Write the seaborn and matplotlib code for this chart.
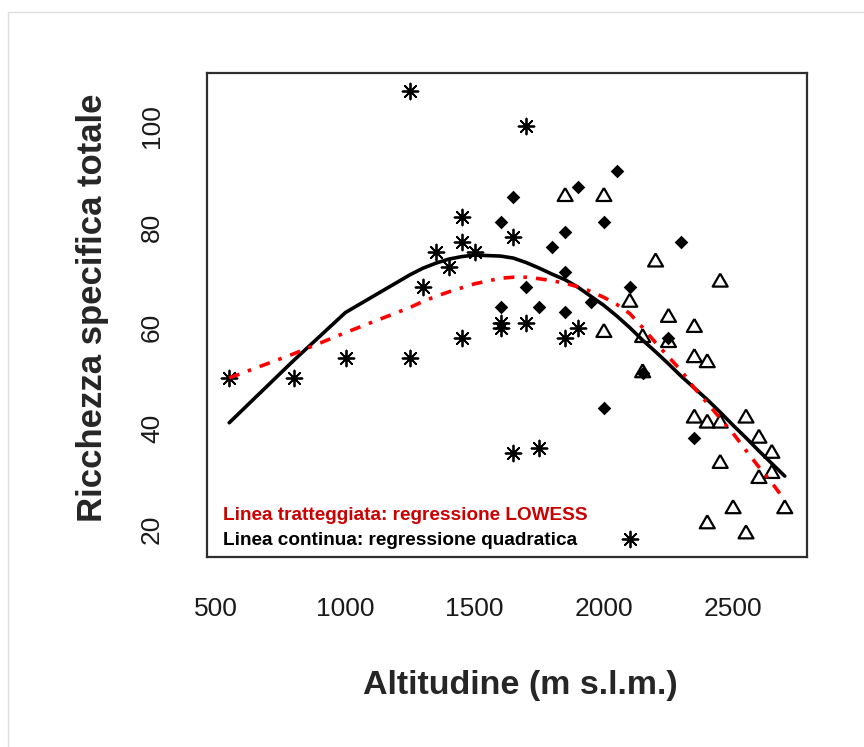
"""Ricchezza specifica vs altitudine: punti, regressione quadratica e LOWESS."""

import matplotlib
matplotlib.use("Agg")

import matplotlib.pyplot as plt
from matplotlib.patches import Rectangle
import numpy as np
import seaborn as sns

# --- dati -------------------------------------------------------------------
# asterischi
ast_alt = [550, 800, 1000, 1250, 1250, 1300, 1350, 1400, 1450, 1450, 1450,
           1500, 1600, 1600, 1650, 1650, 1700, 1700, 1750, 1850, 1900, 2100]
ast_ric = [50, 50, 54, 54, 107, 68, 75, 72, 82, 77, 58,
           75, 61, 60, 78, 35, 100, 61, 36, 58, 60, 18]
# rombi pieni
dia_alt = [1600, 1600, 1650, 1700, 1750, 1800, 1850, 1850, 1850, 1900,
           1950, 2000, 2000, 2050, 2100, 2150, 2250, 2300, 2350]
dia_ric = [81, 64, 86, 68, 64, 76, 79, 71, 63, 88,
           65, 81, 44, 91, 68, 51, 58, 77, 38]
# triangoli vuoti
tri_alt = [1850, 2000, 2000, 2100, 2150, 2150, 2200, 2250, 2250, 2350,
           2350, 2350, 2400, 2400, 2400, 2450, 2450, 2450, 2500, 2550,
           2550, 2600, 2600, 2650, 2650, 2700]
tri_ric = [86, 86, 59, 65, 58, 51, 73, 62, 57, 60,
           54, 42, 53, 41, 21, 69, 41, 33, 24, 42,
           19, 38, 30, 35, 31, 24]

# curve (valori stimati alle altitudini osservate)
fit_alt = [550, 800, 1000, 1250, 1300, 1350, 1400, 1450, 1500, 1600, 1650,
           1700, 1750, 1800, 1850, 1900, 1950, 2000, 2050, 2100, 2150, 2200,
           2250, 2300, 2350, 2400, 2450, 2500, 2550, 2600, 2650, 2700]
quad_ric = [41.1, 53.5, 63.0, 70.5, 71.8, 72.8, 73.6, 74.1, 74.4, 74.2, 73.8,
            72.9, 71.8, 70.6, 69.5, 68.0, 66.2, 64.4, 62.3, 60.0, 57.5, 55.2,
            52.8, 50.3, 48.0, 45.7, 43.2, 40.6, 38.1, 35.5, 33.0, 30.5]
lowess_ric = [50.0, 54.8, 59.0, 64.0, 65.2, 66.2, 67.1, 67.9, 68.7, 69.8, 70.0,
              70.0, 69.7, 69.3, 68.8, 68.1, 67.2, 66.0, 64.6, 62.8, 60.0, 57.0,
              54.2, 51.4, 48.0, 45.0, 42.0, 39.0, 35.6, 32.3, 29.2, 25.7]

x_ticks = [500, 1000, 1500, 2000, 2500]
y_ticks = [20, 40, 60, 80, 100]

alt = np.array(ast_alt + dia_alt + tri_alt, dtype=float)
ric = np.array(ast_ric + dia_ric + tri_ric, dtype=float)

sns.set_theme(style="white")
plt.rcParams["font.family"] = ["Liberation Sans", "DejaVu Sans"]

fig = plt.figure(figsize=(8.64, 7.47), dpi=100)
fig.patches.append(Rectangle((8 / 864, -0.01), 1.0, 1 - 12 / 747 + 0.01,
                             transform=fig.transFigure, fill=False,
                             edgecolor="#dedede", linewidth=1))
ax = fig.add_axes([207 / 864, 1 - 557 / 747, 600 / 864, 484 / 747])

tri_marker = [(0, 1), (-0.866, -0.5), (0.866, -0.5), (0, 1)]

sns.scatterplot(x=ast_alt, y=ast_ric, marker=(8, 2, 0), s=130, color="black",
                linewidth=1.3, ax=ax)
sns.scatterplot(x=dia_alt, y=dia_ric, marker="D", s=48, color="black",
                edgecolor="black", linewidth=0, ax=ax)
sns.scatterplot(x=tri_alt, y=tri_ric, marker=tri_marker, s=155,
                facecolor="none", edgecolor="black", linewidth=1.6, ax=ax)

sns.lineplot(x=fit_alt, y=quad_ric, color="black", linewidth=2.6,
             estimator=None, sort=False, ax=ax)
sns.lineplot(x=fit_alt, y=lowess_ric, color="#ff0000", linewidth=2.6,
             estimator=None, sort=False, linestyle=(0, (3, 2.5, 1, 2.5)), ax=ax)

# limiti stile R (4% oltre il range dei dati)
xr = alt.max() - alt.min()
yr = ric.max() - ric.min()
ax.set_xlim(alt.min() - 0.04 * xr, alt.max() + 0.04 * xr)
ax.set_ylim(ric.min() - 0.04 * yr, ric.max() + 0.04 * yr)

ax.set_xticks(x_ticks)
ax.set_yticks(y_ticks)
ax.tick_params(axis="both", direction="out", length=13, width=1.3,
               color="#333333", labelsize=19, labelcolor="#1a1a1a")
ax.tick_params(axis="x", pad=16)
ax.tick_params(axis="y", pad=18, labelrotation=90)
for lab in ax.get_yticklabels():
    lab.set_va("center")
for sp in ax.spines.values():
    sp.set_color("#2e2e2e")
    sp.set_linewidth(1.6)

ax.set_xlabel("Altitudine (m s.l.m.)", fontsize=24.5, fontweight="bold")
ax.xaxis.set_label_coords(0.523, -0.2665)
ax.xaxis.label.set_va("center")
ax.set_ylabel("Ricchezza specifica totale", fontsize=25, fontweight="bold")
ax.yaxis.set_label_coords(-0.19, 0.5145)
ax.yaxis.label.set_va("center")

ax.text(0.027, 0.085, "Linea tratteggiata: regressione LOWESS", color="#cc0000",
        fontsize=13.7, fontweight="bold", transform=ax.transAxes, va="center")
ax.text(0.027, 0.035, "Linea continua: regressione quadratica", color="black",
        fontsize=13.7, fontweight="bold", transform=ax.transAxes, va="center")

fig.savefig("out.png", dpi=100)
plt.close(fig)
